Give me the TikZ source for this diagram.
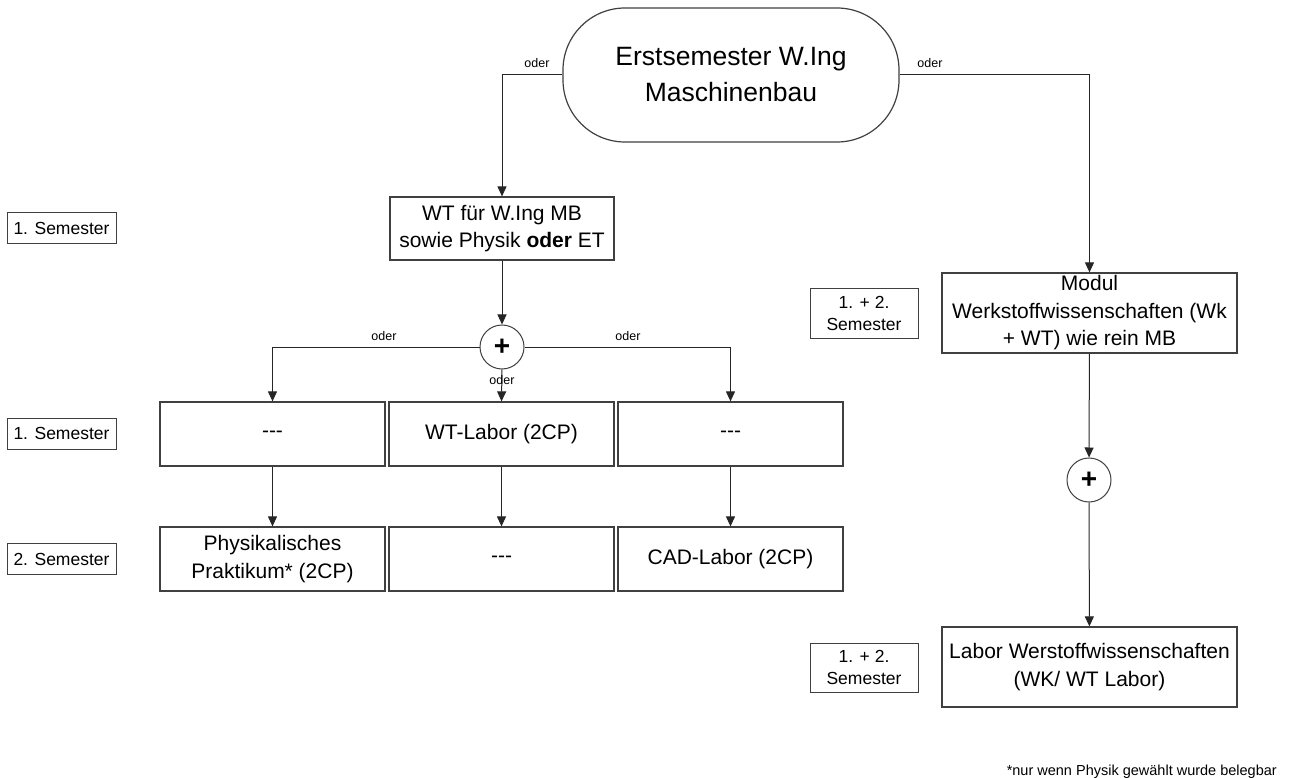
\documentclass[tikz,border=0pt]{standalone}
\usepackage{fontspec}
\setmainfont{Liberation Sans}
\usetikzlibrary{arrows.meta}
\begin{document}
\begin{tikzpicture}[x=1pt,y=-1pt,
 box/.style={draw=black!75, line width=1.2pt, fill=white, inner sep=0pt, align=center, font=\fontsize{21}{27.5}\selectfont},
 semlab/.style={draw=black!75, line width=1pt, fill=white, inner sep=0pt, align=center, font=\fontsize{17.5}{22}\selectfont},
 oder/.style={font=\fontsize{12.5}{13}\selectfont, inner sep=0pt},
 arr/.style={draw=black!85, line width=1pt, -{Triangle[length=10pt,width=9pt]}},
 pluscirc/.style={circle, draw=black!75, line width=1pt, fill=white, minimum size=44pt, inner sep=0pt, font=\fontsize{28}{28}\selectfont\bfseries}
]
\useasboundingbox (0,0) rectangle (1294,778);

% main nodes
\node[box, rounded corners=62pt, minimum width=336pt, minimum height=134pt, font=\fontsize{26.5}{36}\selectfont] (start) at (731,75) {Erstsemester W.Ing\\Maschinenbau};
\node[box, minimum width=224pt, minimum height=63pt] (wt) at (502,228.5) {WT für W.Ing MB\\sowie Physik \textbf{oder} ET};
\node[pluscirc] (p1) at (502,347) {+};

\node[box, minimum width=225pt, minimum height=64pt] (b11) at (272.5,434) {-{}-{}-};
\node[box, minimum width=225pt, minimum height=64pt] (b12) at (501.5,434) {WT-Labor (2CP)};
\node[box, minimum width=225pt, minimum height=64pt] (b13) at (730.5,434) {-{}-{}-};
\node[box, minimum width=225pt, minimum height=64pt] (b21) at (272.5,559) {Physikalisches\\Praktikum* (2CP)};
\node[box, minimum width=225pt, minimum height=64pt] (b22) at (501.5,559) {-{}-{}-};
\node[box, minimum width=225pt, minimum height=64pt] (b23) at (730.5,559) {CAD-Labor (2CP)};

\node[semlab, minimum width=109pt, minimum height=31pt] (s1) at (61.5,228.5) {1. Semester};
\node[semlab, minimum width=109pt, minimum height=31pt] (s2) at (61.5,433.5) {1. Semester};
\node[semlab, minimum width=109pt, minimum height=31pt] (s3) at (61.5,559) {2. Semester};

\node[box, minimum width=295pt, minimum height=80pt] (modul) at (1089.5,313) {Modul\\Werkstoffwissenschaften (Wk\\+ WT) wie rein MB};
\node[semlab, minimum width=108pt, minimum height=49pt] (s4) at (864,313.5) {1. + 2.\\Semester};
\node[pluscirc] (p2) at (1089,480) {+};
\node[box, minimum width=295pt, minimum height=80pt] (labor) at (1089.5,667) {Labor Werstoffwissenschaften\\(WK/ WT Labor)};
\node[semlab, minimum width=108pt, minimum height=49pt] (s5) at (864,667.5) {1. + 2.\\Semester};

\node[anchor=base east, inner sep=0pt, font=\fontsize{14.5}{15}\selectfont] (fn) at (1277,775) {*nur wenn Physik gewählt wurde belegbar};

% connectors
\draw[arr] (start.west) -| (wt.north);
\draw[arr] (start.east) -| (modul.north);
\draw[arr] (wt) -- (p1);
\draw[arr] (p1.west) -| (b11.north);
\draw[arr] (p1.east) -| (b13.north);
\draw[arr] (p1.south) -- (b12.north);
\draw[arr] (b11) -- (b21);
\draw[arr] (b12) -- (b22);
\draw[arr] (b13) -- (b23);
\draw[arr] (modul) -- (p2);
\draw[arr] (p2) -- (labor);

% labels
\node[oder] (o1) at (537,63) {oder};
\node[oder] (o2) at (930,63) {oder};
\node[oder] (o3) at (384,336) {oder};
\node[oder] (o4) at (628,336) {oder};
\node[oder] (o5) at (502,380) {oder};
\end{tikzpicture}
\end{document}
